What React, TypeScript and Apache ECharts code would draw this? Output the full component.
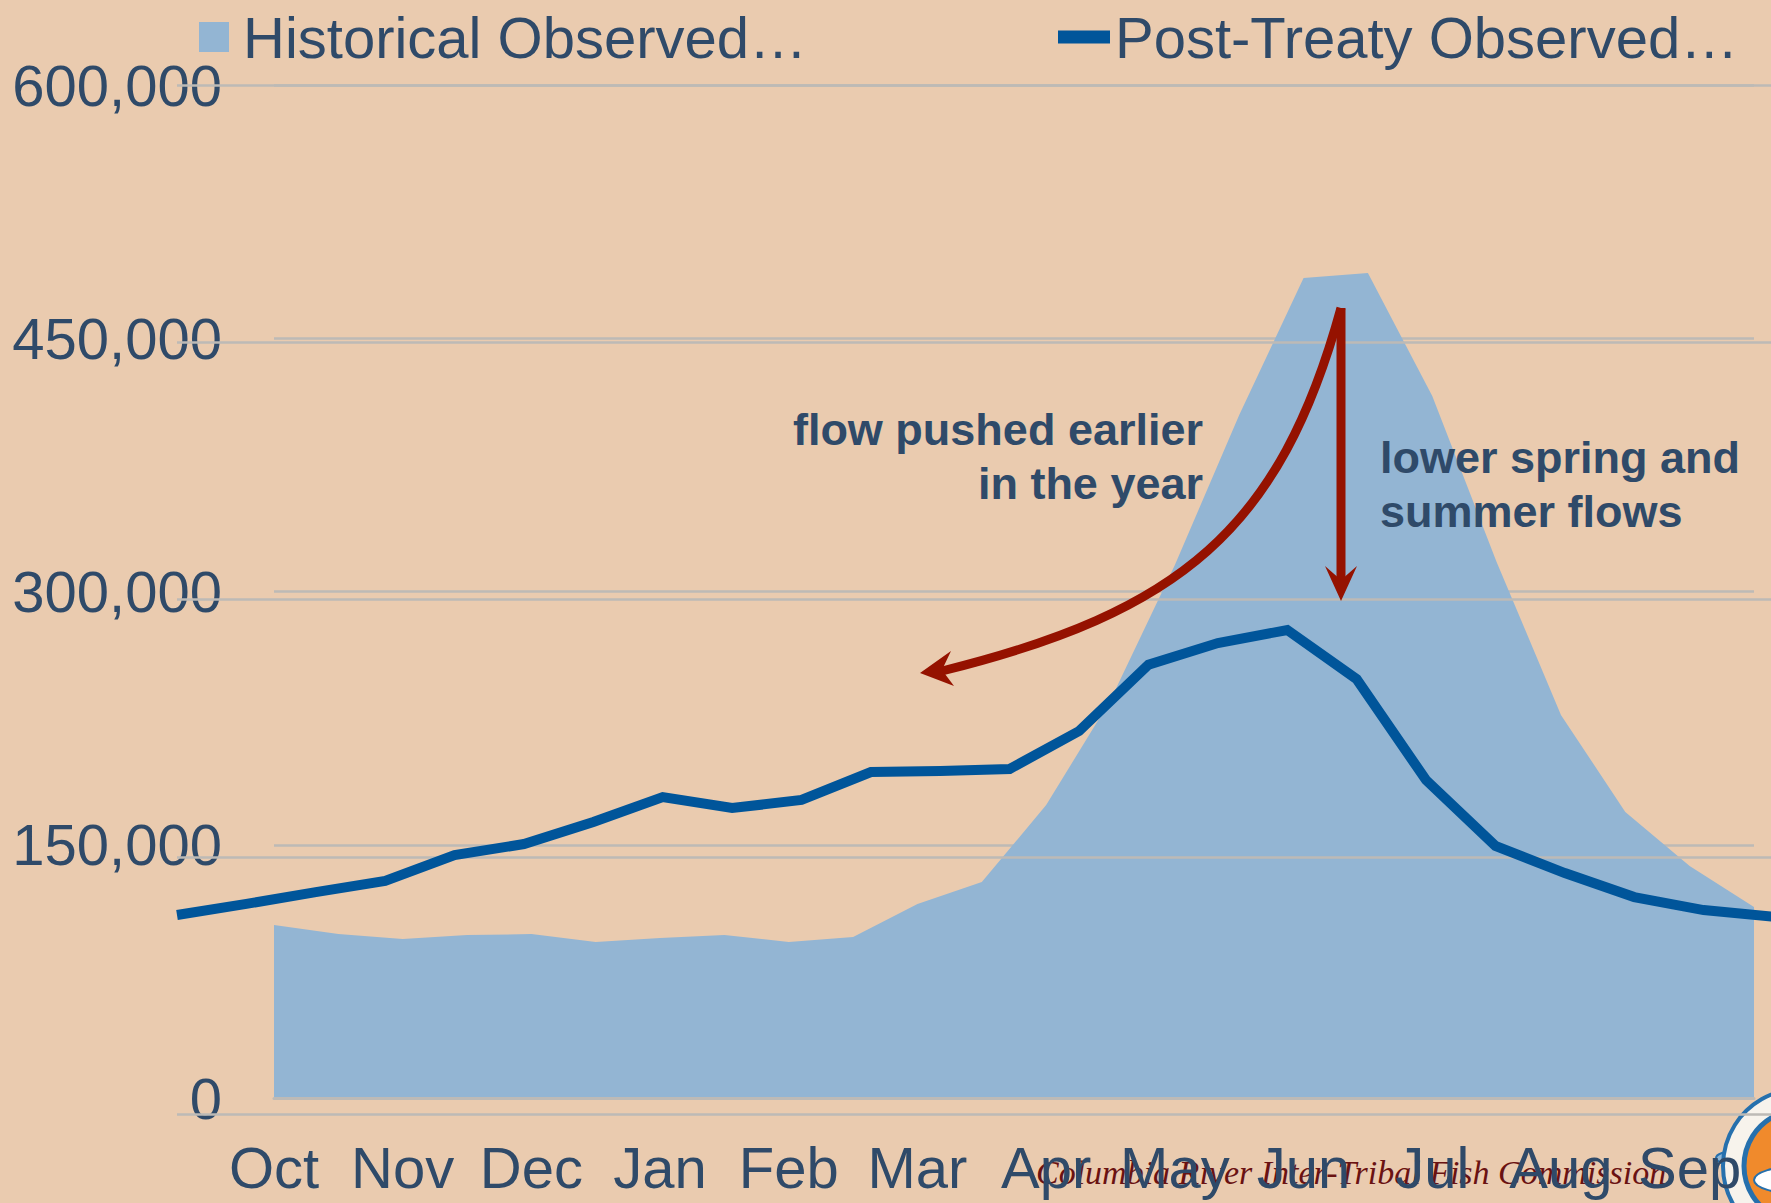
import React, { useEffect, useRef } from "react";
import * as echarts from "echarts";

// Half-month periods (water year, Oct -> Sep)
const periods = [
  "Oct 1", "Oct 16", "Nov 1", "Nov 16", "Dec 1", "Dec 16",
  "Jan 1", "Jan 16", "Feb 1", "Feb 16", "Mar 1", "Mar 16",
  "Apr 1", "Apr 16", "May 1", "May 16", "Jun 1", "Jun 16",
  "Jul 1", "Jul 16", "Aug 1", "Aug 16", "Sep 1", "Sep 16",
];
const monthLabels = ["Oct", "Nov", "Dec", "Jan", "Feb", "Mar", "Apr", "May", "Jun", "Jul", "Aug", "Sep"];

const historicalObserved = [
  102500, 97100, 94200, 96500, 97100, 92400, 94800, 96500, 92400, 95400, 114900, 127900,
  173500, 235700, 315700, 404500, 485700, 488600, 415800, 317500, 226900, 169400, 137400, 113100,
];
const postTreatyObserved = [
  116000, 122500, 129400, 135900, 151000, 157400, 170300, 184800, 178400, 183100, 199400, 200000,
  201200, 223300, 262000, 274600, 282200, 253600, 194700, 156300, 140500, 126500, 118900, 115000,
];
const yTickLabels = ["0", "150,000", "300,000", "450,000", "600,000"];
const seriesNames = ["Historical Observed…", "Post-Treaty Observed…"];
const noteEarlier = "flow pushed earlier\nin the year";
const noteLower = "lower spring and\nsummer flows";
const footer = "Columbia River Inter-Tribal Fish Commission";

const BG = "#EACBAF";
const AREA = "#93B5D3";
const LINE = "#00559A";
const GRID = "#BDBAB6";
const TEXT = "#2F4A69";
const RED = "#951200";
const SANS = "'Liberation Sans', Arial, sans-serif";

export default function App() {
  const ref = useRef<HTMLDivElement>(null);
  useEffect(() => {
    if (!ref.current) return;
    const chart = echarts.init(ref.current, undefined, { renderer: "svg" });
    const option: any = {
      animation: false,
      backgroundColor: BG,
      legend: [
        {
          data: [seriesNames[0]],
          left: 199,
          top: 8,
          padding: 0,
          icon: "rect",
          itemWidth: 30,
          itemHeight: 30,
          selectedMode: false,
          textStyle: { fontSize: 58, color: TEXT, fontFamily: SANS, padding: [0, 0, 0, 9] },
        },
        {
          data: [seriesNames[1]],
          left: 1058,
          top: 8,
          padding: 0,
          icon: "rect",
          itemWidth: 52,
          itemHeight: 13,
          selectedMode: false,
          textStyle: { fontSize: 58, color: TEXT, fontFamily: SANS },
        },
      ],
      grid: [
        { left: 274, right: 17, top: 85, bottom: 105, outerBoundsMode: "none", containLabel: false },
        { left: 177, right: -2, top: 85, bottom: 89, outerBoundsMode: "none", containLabel: false },
      ],
      xAxis: [
        {
          type: "category",
          gridIndex: 0,
          data: periods,
          boundaryGap: false,
          z: 5,
          axisLine: { show: true, lineStyle: { color: GRID, width: 3 } },
          axisTick: { show: false },
          splitLine: { show: false },
          axisLabel: {
            interval: 1,
            margin: 40,
            fontSize: 58,
            color: TEXT,
            fontFamily: SANS,
            formatter: (_v: string, i: number) => monthLabels[Math.floor(i / 2)],
          },
        },
        {
          type: "category",
          gridIndex: 1,
          data: periods,
          boundaryGap: false,
          show: false,
        },
      ],
      yAxis: [
        {
          type: "value",
          gridIndex: 0,
          min: 0,
          max: 600000,
          interval: 150000,
          z: 0,
          axisLine: { show: false },
          axisTick: { show: false },
          splitLine: { show: true, lineStyle: { color: GRID, width: 2.5 } },
          axisLabel: {
            margin: 52,
            fontSize: 58,
            color: TEXT,
            fontFamily: SANS,
            formatter: (v: number) => yTickLabels[Math.round(v / 150000)],
          },
        },
        {
          type: "value",
          gridIndex: 1,
          min: 0,
          max: 600000,
          interval: 150000,
          z: 2,
          axisLine: { show: false },
          axisTick: { show: false },
          axisLabel: { show: false },
          splitLine: { show: true, lineStyle: { color: GRID, width: 2.5 } },
        },
      ],
      series: [
        {
          name: seriesNames[0],
          type: "line",
          xAxisIndex: 0,
          yAxisIndex: 0,
          data: historicalObserved,
          symbol: "none",
          z: 1,
          lineStyle: { width: 0, color: AREA },
          itemStyle: { color: AREA },
          areaStyle: { color: AREA, opacity: 1 },
        },
        {
          name: seriesNames[1],
          type: "line",
          xAxisIndex: 1,
          yAxisIndex: 1,
          data: postTreatyObserved,
          symbol: "none",
          z: 3,
          lineStyle: { width: 10, color: LINE, join: "miter" },
          itemStyle: { color: LINE },
        },
      ],
      graphic: [
        {
          type: "bezierCurve",
          z: 10,
          shape: { x1: 1341, y1: 308, cpx1: 1280, cpy1: 530, cpx2: 1180, cpy2: 612, x2: 942, y2: 671 },
          style: { stroke: RED, lineWidth: 9, fill: null },
        },
        {
          type: "polygon",
          z: 10,
          shape: { points: [[920, 673], [951, 651], [942, 670], [954, 686]] },
          style: { fill: RED },
        },
        {
          type: "line",
          z: 10,
          shape: { x1: 1341, y1: 308, x2: 1341, y2: 584 },
          style: { stroke: RED, lineWidth: 9 },
        },
        {
          type: "polygon",
          z: 10,
          shape: { points: [[1341, 601], [1325, 566], [1341, 580], [1357, 566]] },
          style: { fill: RED },
        },
        {
          type: "text",
          z: 10,
          x: 1203,
          y: 456,
          style: {
            text: noteEarlier,
            align: "right",
            verticalAlign: "middle",
            fontSize: 45,
            fontWeight: "bold",
            fontFamily: SANS,
            lineHeight: 54,
            fill: TEXT,
          },
        },
        {
          type: "text",
          z: 10,
          x: 1380,
          y: 484,
          style: {
            text: noteLower,
            align: "left",
            verticalAlign: "middle",
            fontSize: 45,
            fontWeight: "bold",
            fontFamily: SANS,
            lineHeight: 54,
            fill: TEXT,
          },
        },
        {
          type: "text",
          z: 4,
          x: 1036,
          y: 1172,
          style: {
            text: footer,
            align: "left",
            verticalAlign: "middle",
            fontSize: 34,
            fontStyle: "italic",
            fontFamily: "'Liberation Serif', 'Times New Roman', serif",
            fill: "#6A1212",
          },
        },
        {
          type: "group",
          z: 3,
          children: [
            {
              type: "ellipse",
              shape: { cx: 1736, cy: 1158, rx: 20, ry: 7 },
              style: { fill: "#8FB6D6", stroke: "#2670AD", lineWidth: 2 },
            },
            {
              type: "circle",
              shape: { cx: 1800, cy: 1166, r: 77 },
              style: { fill: "#F7F3EC", stroke: "#2670AD", lineWidth: 4 },
            },
            {
              type: "circle",
              shape: { cx: 1800, cy: 1166, r: 56 },
              style: { fill: "#F08A2C", stroke: "#2670AD", lineWidth: 5 },
            },
            {
              type: "ellipse",
              shape: { cx: 1800, cy: 1180, rx: 46, ry: 14 },
              style: { fill: "#FFFFFF", stroke: "#2670AD", lineWidth: 2 },
            },
            {
              type: "circle",
              shape: { cx: 1790, cy: 1124, r: 8 },
              style: { fill: "#FFFFFF", stroke: "#1F5F96", lineWidth: 3 },
            },
          ],
        },
      ],
    };
    chart.setOption(option);
    return () => chart.dispose();
  }, []);
  return (
    <div
      ref={ref}
      style={{ position: "absolute", left: 0, top: 0, width: 1771, height: 1203 }}
    />
  );
}
